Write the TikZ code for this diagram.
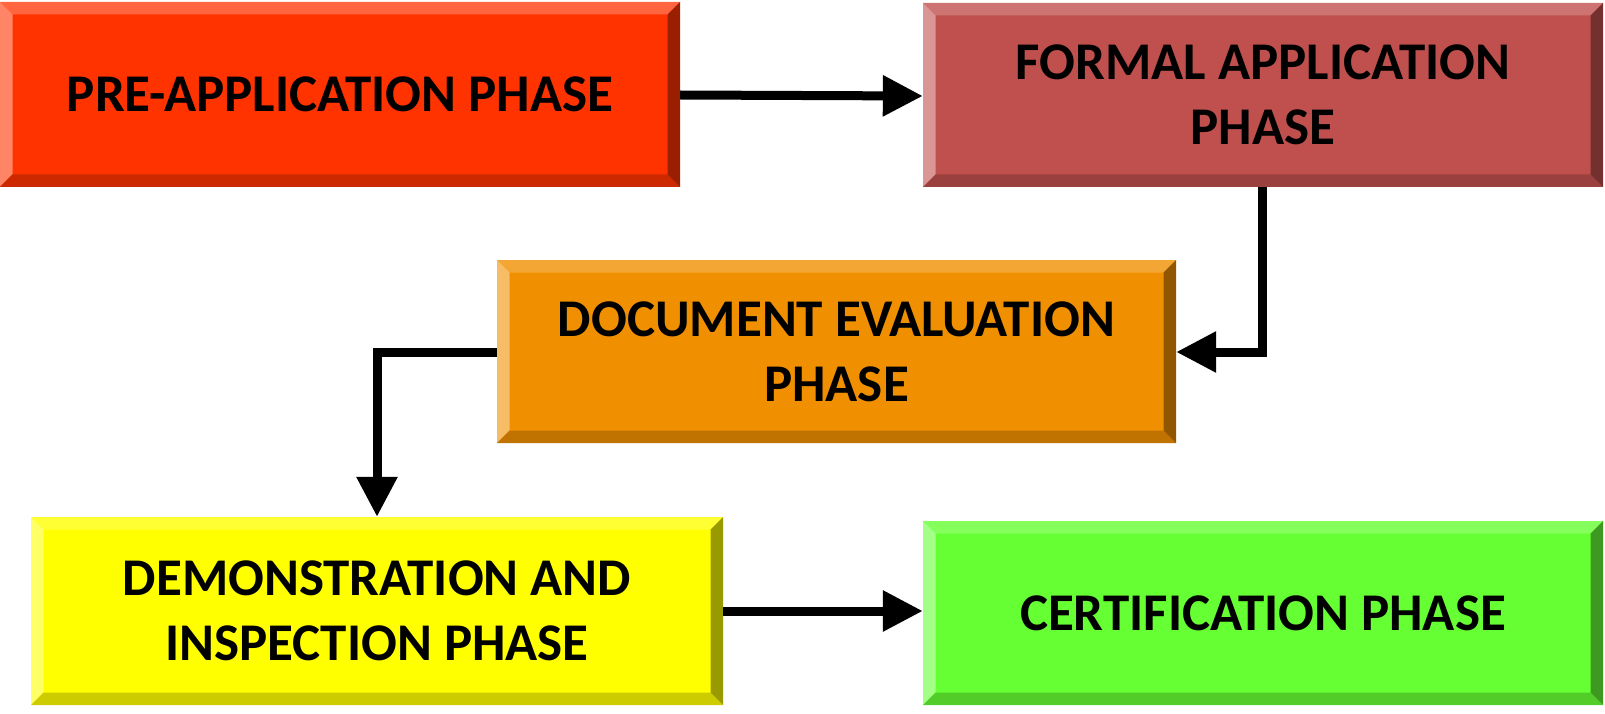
\documentclass[tikz,border=0pt]{standalone}
\usepackage{fontspec}
\setmainfont{Carlito}
\usetikzlibrary{arrows.meta}
\definecolor{aM}{HTML}{FF3300}\definecolor{aT}{HTML}{FF6640}\definecolor{aL}{HTML}{FF8566}\definecolor{aB}{HTML}{CC2900}\definecolor{aR}{HTML}{991F00}
\definecolor{bM}{HTML}{C0504D}\definecolor{bT}{HTML}{CD7371}\definecolor{bL}{HTML}{D99694}\definecolor{bB}{HTML}{9A403E}\definecolor{bR}{HTML}{73302E}
\definecolor{cM}{HTML}{F09000}\definecolor{cT}{HTML}{F3A633}\definecolor{cL}{HTML}{F6BC66}\definecolor{cB}{HTML}{C07300}\definecolor{cR}{HTML}{905600}
\definecolor{dM}{HTML}{FFFF00}\definecolor{dT}{HTML}{FFFF33}\definecolor{dL}{HTML}{FFFF66}\definecolor{dB}{HTML}{CCCC00}\definecolor{dR}{HTML}{999900}
\definecolor{eM}{HTML}{66FF33}\definecolor{eT}{HTML}{85FF5C}\definecolor{eL}{HTML}{A3FF85}\definecolor{eB}{HTML}{52CC29}\definecolor{eR}{HTML}{3D991F}
\tikzset{
  bevelbox/.style n args={5}{rectangle, inner sep=0pt, fill=#1, align=center,
    font=\fontsize{53}{65}\selectfont\bfseries,
    path picture={
      \coordinate (NW) at (path picture bounding box.north west);
      \coordinate (NE) at (path picture bounding box.north east);
      \coordinate (SW) at (path picture bounding box.south west);
      \coordinate (SE) at (path picture bounding box.south east);
      \fill[#2] (NW) -- (NE) -- ([shift={(-12.5pt,-12.5pt)}]NE) -- ([shift={(12.5pt,-12.5pt)}]NW) -- cycle;
      \fill[#3] (NW) -- (SW) -- ([shift={(12.5pt,12.5pt)}]SW) -- ([shift={(12.5pt,-12.5pt)}]NW) -- cycle;
      \fill[#4] (SW) -- (SE) -- ([shift={(-12.5pt,12.5pt)}]SE) -- ([shift={(12.5pt,12.5pt)}]SW) -- cycle;
      \fill[#5] (NE) -- (SE) -- ([shift={(-12.5pt,12.5pt)}]SE) -- ([shift={(-12.5pt,-12.5pt)}]NE) -- cycle;
    }},
  conn/.style={line width=9pt, -{Triangle[length=40pt,width=39pt]}}
}
\begin{document}
\begin{tikzpicture}[x=1pt,y=-1pt]
\useasboundingbox (0,0) rectangle (1605,714);
\node[bevelbox={aM}{aT}{aL}{aB}{aR}, minimum width=680pt, minimum height=185pt] (b1) at (340,94.5) {PRE-APPLICATION PHASE};
\node[bevelbox={bM}{bT}{bL}{bB}{bR}, minimum width=680pt, minimum height=184pt] (b2) at (1263,95) {FORMAL APPLICATION\\PHASE};
\node[bevelbox={cM}{cT}{cL}{cB}{cR}, minimum width=679pt, minimum height=183pt] (b3) at (836.5,351.5) {DOCUMENT EVALUATION\\PHASE};
\node[bevelbox={dM}{dT}{dL}{dB}{dR}, minimum width=692pt, minimum height=188pt] (b4) at (377,611) {DEMONSTRATION AND\\INSPECTION PHASE};
\node[bevelbox={eM}{eT}{eL}{eB}{eR}, minimum width=680pt, minimum height=184pt] (b5) at (1263,613) {CERTIFICATION PHASE};
\draw[conn] (b1.east |- 0,95) -- (b2.west |- 0,96);
\draw[conn] (1262,0 |- b2.south) -- (1262,352) -- (b3.east |- 0,352);
\draw[conn] (b3.west |- 0,352) -- (377,352) -- (377,0 |- b4.north);
\draw[conn] (b4.east |- 0,611) -- (b5.west |- 0,611);
\end{tikzpicture}
\end{document}
